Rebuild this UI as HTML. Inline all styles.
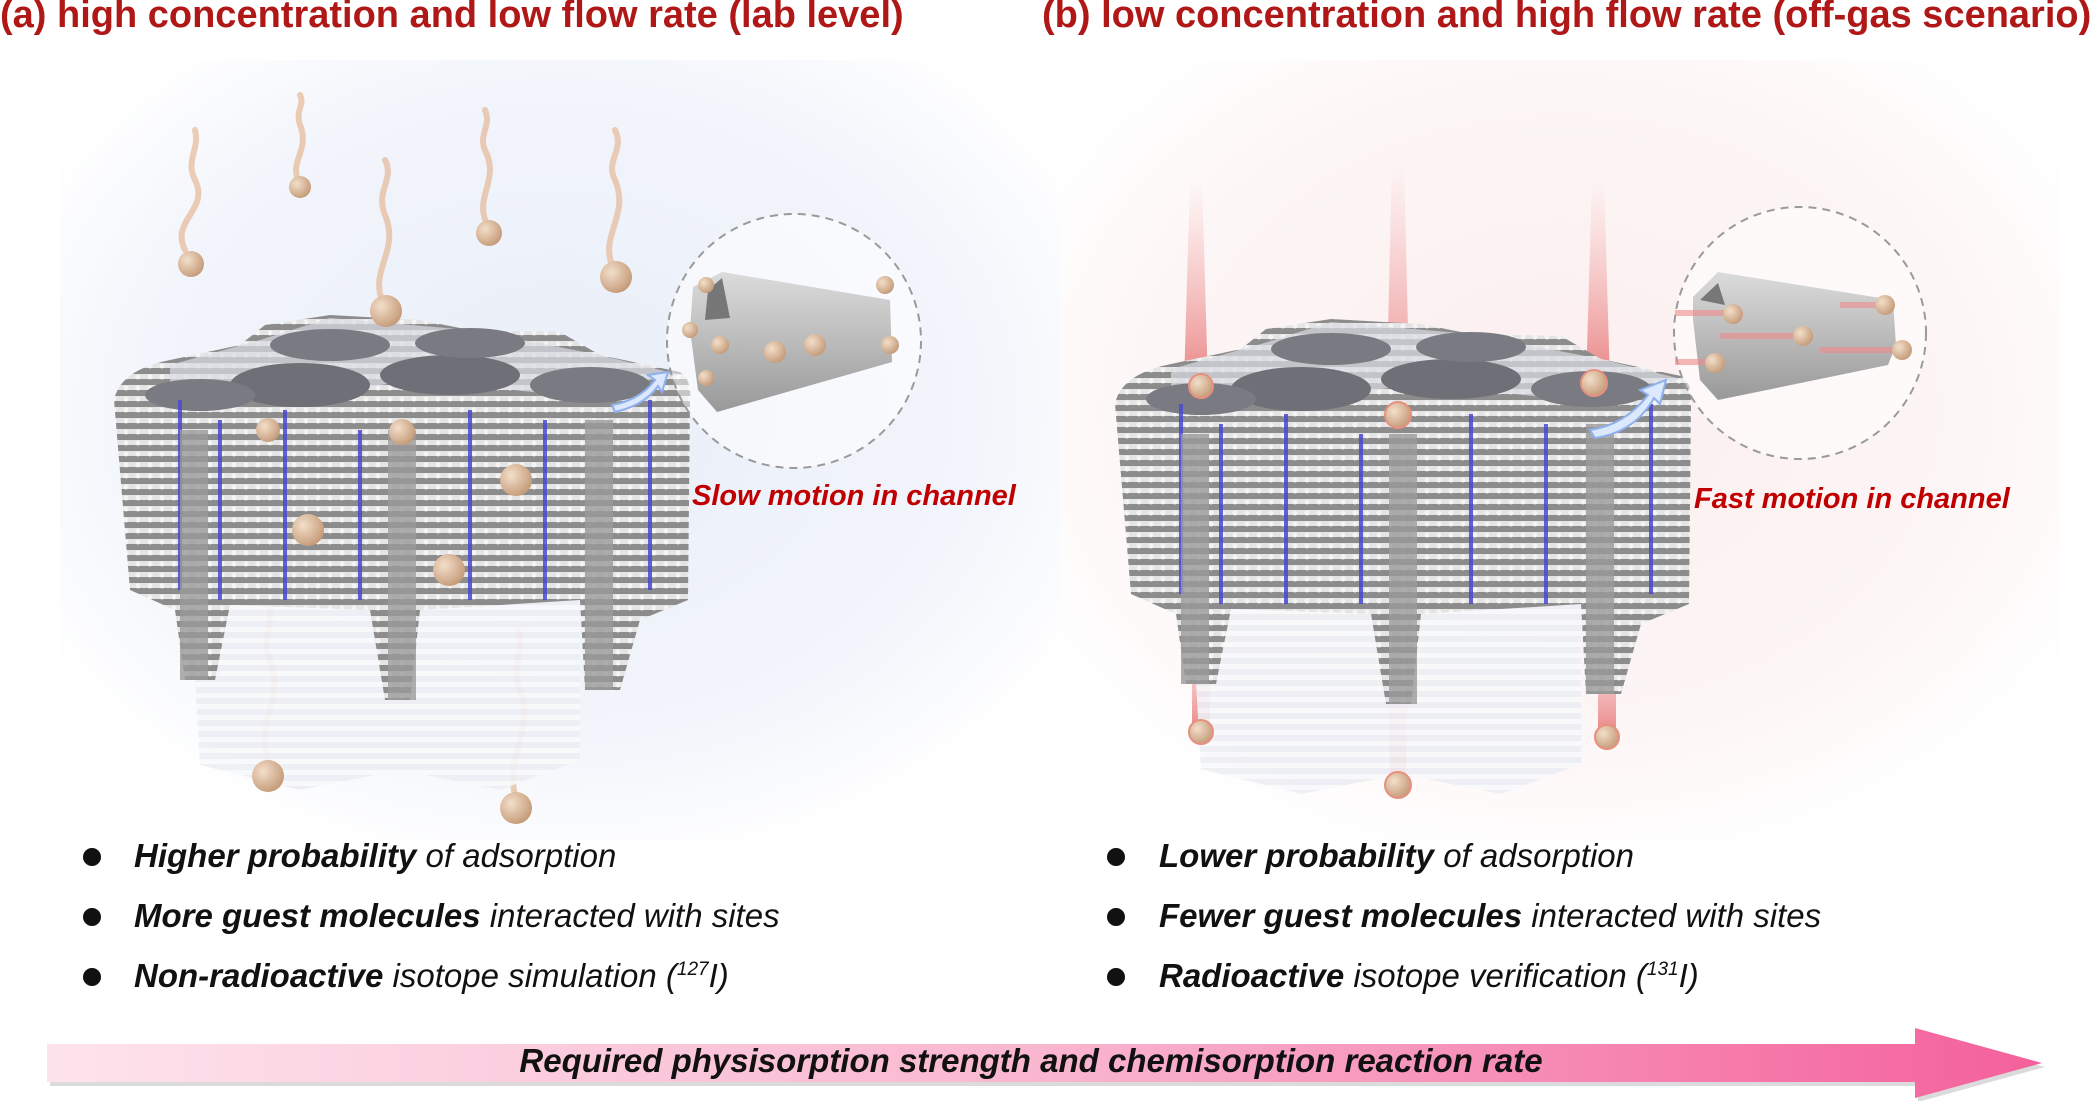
<!DOCTYPE html>
<html><head><meta charset="utf-8">
<style>
html,body{margin:0;padding:0;}
body{width:2100px;height:1101px;position:relative;overflow:hidden;background:#fff;font-family:"Liberation Sans",Arial,sans-serif;}
.t{position:absolute;color:#b01818;font-weight:bold;font-size:38px;white-space:nowrap;top:-6px;}
.lbl{position:absolute;color:#c00000;font-weight:bold;font-style:italic;font-size:29px;white-space:nowrap;}
.b{position:absolute;font-size:33px;font-style:italic;white-space:nowrap;color:#111;}
.b b{font-weight:bold;}
.dot{position:absolute;width:18px;height:18px;border-radius:50%;background:#111;}
sup{font-size:19px;}
</style></head><body>
<svg width="2100" height="1101" style="position:absolute;left:0;top:0">
<defs>
<radialGradient id="bgL" cx="0.5" cy="0.45" r="0.6"><stop offset="0" stop-color="#e9eef8"/><stop offset="0.7" stop-color="#f2f5fb"/><stop offset="1" stop-color="#fff"/></radialGradient>
<radialGradient id="bgR" cx="0.5" cy="0.45" r="0.6"><stop offset="0" stop-color="#fbeeee"/><stop offset="0.7" stop-color="#fdf6f6"/><stop offset="1" stop-color="#fff"/></radialGradient>
<pattern id="str" width="12" height="11" patternUnits="userSpaceOnUse">
<rect width="12" height="11" fill="#8c8c8c"/><rect y="0" width="12" height="5" fill="#e4e4e4"/><circle cx="6" cy="3" r="2.5" fill="#f4f4f4"/>
</pattern>
<pattern id="str2" width="12" height="11" patternUnits="userSpaceOnUse">
<rect width="12" height="11" fill="#eceef3"/><rect y="0" width="12" height="5" fill="#f8f9fb"/>
</pattern>
<radialGradient id="ball" cx="0.35" cy="0.35" r="0.7"><stop offset="0" stop-color="#f3dfca"/><stop offset="1" stop-color="#c49a78"/></radialGradient>
<linearGradient id="beam" x1="0" y1="0" x2="0" y2="1"><stop offset="0" stop-color="#f4a0a0" stop-opacity="0"/><stop offset="1" stop-color="#e46868" stop-opacity="0.8"/></linearGradient>
<linearGradient id="arr" x1="0" x2="1"><stop offset="0" stop-color="#fde3ec"/><stop offset="0.5" stop-color="#f9b6cf"/><stop offset="1" stop-color="#f4609b"/></linearGradient>
<linearGradient id="tube" x1="0" y1="0" x2="0" y2="1"><stop offset="0" stop-color="#d8d8d8"/><stop offset="0.5" stop-color="#b4b4b4"/><stop offset="1" stop-color="#8e8e8e"/></linearGradient>
<g id="mof">
 <path d="M190,590 L580,590 L580,760 L500,790 L400,770 L300,790 L200,765 Z" fill="url(#str2)" opacity="0.9"/>
 <path d="M114,400 Q120,370 170,360 L240,345 L265,325 L330,315 L420,320 L470,330 L560,332 L600,355 L680,372 Q692,380 690,400 L688,600 L640,620 L620,690 L585,690 L580,600 L420,610 L410,700 L385,700 L370,610 L230,605 L215,680 L185,680 L175,610 L130,590 Z" fill="url(#str)"/>
 <path d="M170,365 L260,340 L330,318 L470,330 L600,355 L680,375 L560,395 L420,380 L300,395 L170,400 Z" fill="#d8dbe2" opacity="0.7"/>
 <ellipse cx="300" cy="385" rx="70" ry="22" fill="#6f6f78"/>
 <ellipse cx="450" cy="375" rx="70" ry="20" fill="#6f6f78"/>
 <ellipse cx="330" cy="345" rx="60" ry="16" fill="#7a7a82"/>
 <ellipse cx="470" cy="343" rx="55" ry="15" fill="#7a7a82"/>
 <ellipse cx="590" cy="385" rx="60" ry="18" fill="#7a7a82"/>
 <ellipse cx="200" cy="395" rx="55" ry="16" fill="#7a7a82"/>
 <g stroke="#4a4ad0" stroke-width="4" opacity="0.85">
  <line x1="220" y1="420" x2="220" y2="600"/><line x1="285" y1="410" x2="285" y2="600"/>
  <line x1="360" y1="430" x2="360" y2="600"/><line x1="470" y1="410" x2="470" y2="600"/>
  <line x1="545" y1="420" x2="545" y2="600"/><line x1="650" y1="400" x2="650" y2="590"/>
  <line x1="180" y1="400" x2="180" y2="590"/>
 </g>
 <rect x="180" y="430" width="28" height="250" fill="#9a9a9a" opacity="0.8"/>
 <rect x="388" y="430" width="28" height="270" fill="#9a9a9a" opacity="0.8"/>
 <rect x="585" y="420" width="28" height="270" fill="#9a9a9a" opacity="0.8"/>
</g>
</defs>
<rect x="60" y="60" width="1000" height="780" fill="url(#bgL)"/>
<rect x="1060" y="60" width="1000" height="780" fill="url(#bgR)"/>

<g fill="none" stroke="#e6b896" stroke-width="6" opacity="0.7" stroke-linecap="round">
 <path d="M185,250 C170,220 210,210 195,180 C185,160 200,150 195,130"/>
 <path d="M298,180 C290,160 310,150 300,125 C295,110 305,105 300,95"/>
 <path d="M382,300 C370,270 400,250 385,215 C375,190 395,180 385,160"/>
 <path d="M486,222 C475,195 500,180 485,150 C478,135 492,125 485,110"/>
 <path d="M612,265 C600,235 630,215 615,180 C605,160 625,150 615,130"/>
 <path d="M268,760 C255,720 285,700 270,660 C260,640 275,625 268,600"/>
 <path d="M515,795 C505,755 535,730 520,690 C510,670 525,650 518,630"/>
</g>
<use href="#mof"/>
<g fill="url(#ball)">
 <circle cx="191" cy="264" r="13"/><circle cx="300" cy="187" r="11"/><circle cx="386" cy="311" r="16"/>
 <circle cx="489" cy="233" r="13"/><circle cx="616" cy="277" r="16"/>
 <circle cx="268" cy="430" r="12"/><circle cx="402" cy="432" r="13"/><circle cx="516" cy="480" r="16"/>
 <circle cx="308" cy="530" r="16"/><circle cx="449" cy="570" r="16"/>
 <circle cx="268" cy="776" r="16"/><circle cx="516" cy="808" r="16"/>
</g>
<path d="M612,405 Q640,400 655,380 L648,375 L668,372 L662,392 L658,386 Q645,405 615,412 Z" fill="#dce8fb" stroke="#8fb0ef" stroke-width="2"/>
<circle cx="794" cy="341" r="127" fill="#fff" fill-opacity="0.5" stroke="#9a9a9a" stroke-width="2" stroke-dasharray="8,6"/>
<polygon points="693,287 722,272 890,300 892,362 717,412 698,390 690,330" fill="url(#tube)" opacity="0.9"/>
<polygon points="708,290 722,278 730,318 705,320" fill="#777"/>
<g fill="url(#ball)"><circle cx="706" cy="285" r="8"/><circle cx="690" cy="330" r="8"/><circle cx="720" cy="345" r="9"/><circle cx="706" cy="378" r="8"/><circle cx="885" cy="285" r="9"/><circle cx="890" cy="345" r="9"/><circle cx="775" cy="352" r="11"/><circle cx="815" cy="345" r="11"/></g>

<g fill="url(#beam)">
 <polygon points="1190,180 1202,180 1208,384 1184,384"/>
 <polygon points="1392,160 1404,160 1410,414 1386,414"/>
 <polygon points="1592,180 1604,180 1610,383 1586,383"/>
 <polygon points="1192,620 1210,620 1210,730 1192,730"/>
 <polygon points="1388,650 1408,650 1406,781 1390,781"/>
 <polygon points="1598,620 1616,620 1616,735 1598,735"/>
</g>
<use href="#mof" transform="translate(1001,4)"/>
<g fill="url(#ball)" stroke="#e89080" stroke-width="2">
 <circle cx="1201" cy="386" r="12"/><circle cx="1398" cy="415" r="13"/><circle cx="1594" cy="383" r="13"/>
 <circle cx="1201" cy="732" r="12"/><circle cx="1398" cy="785" r="13"/><circle cx="1607" cy="737" r="12"/>
</g>
<path d="M1590,430 Q1625,425 1648,395 L1640,390 L1666,380 L1660,404 L1654,398 Q1635,432 1595,438 Z" fill="#dce8fb" stroke="#8fb0ef" stroke-width="2"/>
<circle cx="1800" cy="333" r="126" fill="#fff" fill-opacity="0.5" stroke="#9a9a9a" stroke-width="2" stroke-dasharray="8,6"/>
<polygon points="1693,297 1718,272 1893,300 1896,345 1888,365 1718,400 1700,380 1693,320" fill="url(#tube)" opacity="0.9"/>
<polygon points="1700,300 1718,283 1725,305" fill="#777"/>
<g stroke="#f08a8a" stroke-width="6" opacity="0.6"><line x1="1675" y1="313" x2="1735" y2="313"/><line x1="1720" y1="336" x2="1800" y2="336"/><line x1="1675" y1="362" x2="1715" y2="362"/><line x1="1840" y1="305" x2="1885" y2="305"/><line x1="1820" y1="350" x2="1900" y2="350"/></g>
<g fill="url(#ball)"><circle cx="1733" cy="314" r="10"/><circle cx="1803" cy="336" r="10"/><circle cx="1715" cy="363" r="10"/><circle cx="1885" cy="305" r="10"/><circle cx="1902" cy="350" r="10"/></g>

<g transform="translate(3,4)" opacity="0.3"><polygon points="47,1044 1915,1044 1915,1028 2042,1063 1915,1098 1915,1082 47,1082" fill="#888"/></g>
<polygon points="47,1044 1915,1044 1915,1028 2042,1063 1915,1098 1915,1082 47,1082" fill="url(#arr)"/>
</svg>

<div class="t" style="left:0">(a) high concentration and low flow rate (lab level)</div>
<div class="t" style="left:1042px">(b) low concentration and high flow rate (off-gas scenario)</div>
<div class="lbl" style="left:692px;top:480px">Slow motion in channel</div>
<div class="lbl" style="left:1694px;top:483px">Fast motion in channel</div>

<div class="dot" style="left:83px;top:848px"></div>
<div class="b" style="left:134px;top:837px"><b>Higher probability</b> of adsorption</div>
<div class="dot" style="left:83px;top:908px"></div>
<div class="b" style="left:134px;top:897px"><b>More guest molecules</b> interacted with sites</div>
<div class="dot" style="left:83px;top:968px"></div>
<div class="b" style="left:134px;top:957px"><b>Non-radioactive</b> isotope simulation (<sup>127</sup>I)</div>

<div class="dot" style="left:1107px;top:848px"></div>
<div class="b" style="left:1159px;top:837px"><b>Lower probability</b> of adsorption</div>
<div class="dot" style="left:1107px;top:908px"></div>
<div class="b" style="left:1159px;top:897px"><b>Fewer guest molecules</b> interacted with sites</div>
<div class="dot" style="left:1107px;top:968px"></div>
<div class="b" style="left:1159px;top:957px"><b>Radioactive</b> isotope verification (<sup>131</sup>I)</div>

<div class="b" style="left:0;width:2062px;text-align:center;top:1042px;font-weight:bold">Required physisorption strength and chemisorption reaction rate</div>
</body></html>
